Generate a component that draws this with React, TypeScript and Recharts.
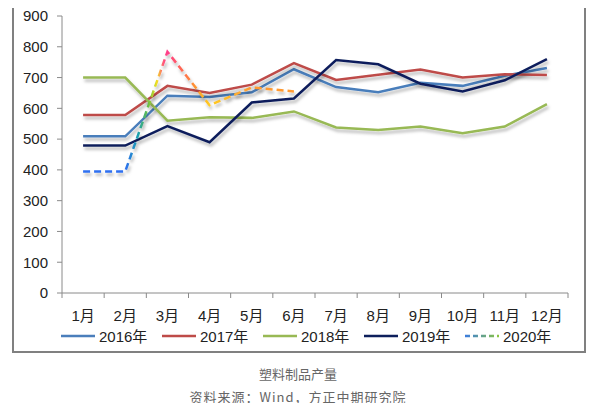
import React from 'react';
import { LineChart, Line, XAxis, YAxis, Legend, Customized } from 'recharts';

const months = ['1月', '2月', '3月', '4月', '5月', '6月', '7月', '8月', '9月', '10月', '11月', '12月'];
const s2016 = [509, 509, 641, 637, 652, 727, 669, 652, 683, 673, 706, 731];
const s2017 = [578, 578, 673, 650, 677, 747, 692, 709, 726, 700, 711, 708];
const s2018 = [700, 700, 560, 571, 569, 590, 538, 530, 541, 519, 541, 614];
const s2019 = [479, 479, 542, 490, 619, 632, 757, 743, 680, 655, 691, 760];
const s2020: (number | null)[] = [395, 395, 784, 610, 668, 655, null, null, null, null, null, null];
const yTicks = [0, 100, 200, 300, 400, 500, 600, 700, 800, 900];

const seriesNames = ['2016年', '2017年', '2018年', '2019年', '2020年'];
const seriesColors = ['#4a7ebb', '#be4b48', '#98b954', '#0d1f5c', 'url(#g2020)'];

const data = months.map((m, i) => ({
  month: m,
  y2016: s2016[i],
  y2017: s2017[i],
  y2018: s2018[i],
  y2019: s2019[i],
  y2020: s2020[i],
}));

const CHART_W = 574;
const CHART_H = 348;
const MARGIN = { top: 11, right: 18, bottom: 7, left: 0 };
const Y_W = 50;
const BAND = (CHART_W - MARGIN.left - MARGIN.right - Y_W) / months.length;

const FONT = '"Liberation Sans", "Noto Sans CJK SC", sans-serif';

const XTick = (props: any) => {
  const { x, y, payload, index } = props;
  return (
    <g>
      <line x1={x - BAND / 2} y1={y} x2={x - BAND / 2} y2={y + 5} stroke="#8a8a8a" strokeWidth={1} />
      {index === months.length - 1 && (
        <line x1={x + BAND / 2} y1={y} x2={x + BAND / 2} y2={y + 5} stroke="#8a8a8a" strokeWidth={1} />
      )}
      <text x={x} y={y + 28} textAnchor="middle" fontSize={15} fill="#222" fontFamily={FONT}>
        {payload.value}
      </text>
    </g>
  );
};

const Frame = () => (
  <rect x={1} y={1} width={CHART_W - 2} height={CHART_H - 2} fill="none" stroke="#808080" strokeWidth={2} />
);

const LegendContent = () => (
  <div style={{ display: 'flex', paddingLeft: 48, fontFamily: FONT, fontSize: 15, color: '#222' }}>
    {seriesNames.map((n, i) => (
      <div key={n} style={{ display: 'flex', alignItems: 'center', width: 101 }}>
        <svg width={36} height={10} style={{ marginRight: 3 }}>
          <defs>
            <linearGradient id={'lg' + i} gradientUnits="userSpaceOnUse" x1="1" y1="0" x2="35" y2="0">
              <stop offset="0" stopColor="#3a7be0" />
              <stop offset="1" stopColor="#8cc63f" />
            </linearGradient>
          </defs>
          <line
            x1={1}
            y1={5}
            x2={35}
            y2={5}
            stroke={i === 4 ? 'url(#lg4)' : seriesColors[i]}
            strokeWidth={2.5}
            strokeDasharray={i === 4 ? '5 3' : undefined}
          />
        </svg>
        <span>{n}</span>
      </div>
    ))}
  </div>
);

export default function App() {
  return (
    <div style={{ position: 'relative', margin: -8, width: 596, height: 411, background: '#fff' }}>
      <div style={{ position: 'absolute', left: 12, top: 5, width: CHART_W, height: CHART_H }}>
        <LineChart width={CHART_W} height={CHART_H} data={data} margin={MARGIN}>
          <defs>
            <filter id="shadow" x="-10%" y="-10%" width="130%" height="140%">
              <feDropShadow dx="1.5" dy="3" stdDeviation="1.5" floodColor="#000" floodOpacity="0.28" />
            </filter>
            <linearGradient id="g2020" x1="0" y1="0" x2="1" y2="0">
              <stop offset="0" stopColor="#2f6ff0" />
              <stop offset="0.2" stopColor="#2f6ff0" />
              <stop offset="0.26" stopColor="#1a9fb0" />
              <stop offset="0.31" stopColor="#6cc040" />
              <stop offset="0.35" stopColor="#f2e020" />
              <stop offset="0.38" stopColor="#ff5a7a" />
              <stop offset="0.4" stopColor="#ff3c8c" />
              <stop offset="0.47" stopColor="#ff6a50" />
              <stop offset="0.54" stopColor="#ff9a30" />
              <stop offset="0.6" stopColor="#ffcc20" />
              <stop offset="0.72" stopColor="#ffb030" />
              <stop offset="0.8" stopColor="#ff9a30" />
              <stop offset="1" stopColor="#ff9a30" />
            </linearGradient>
          </defs>
          <Customized component={<Frame />} />
          <XAxis
            dataKey="month"
            axisLine={{ stroke: '#8a8a8a', strokeWidth: 1 }}
            tickLine={false}
            tickSize={0}
            tickMargin={0}
            height={32}
            interval={0}
            padding={{ left: BAND / 2, right: BAND / 2 }}
            tick={<XTick />}
          />
          <YAxis
            domain={[0, 900]}
            ticks={yTicks}
            width={Y_W}
            axisLine={{ stroke: '#8a8a8a', strokeWidth: 1 }}
            tickLine={{ stroke: '#8a8a8a' }}
            tickSize={5}
            tickMargin={9}
            tick={{ fontSize: 15, fill: '#222', fontFamily: FONT }}
          />
          <Legend verticalAlign="bottom" content={<LegendContent />} wrapperStyle={{ left: 0, width: CHART_W }} />
          <Line type="linear" dataKey="y2016" stroke={seriesColors[0]} strokeWidth={2.5} dot={false} isAnimationActive={false} filter="url(#shadow)" />
          <Line type="linear" dataKey="y2017" stroke={seriesColors[1]} strokeWidth={2.5} dot={false} isAnimationActive={false} filter="url(#shadow)" />
          <Line type="linear" dataKey="y2018" stroke={seriesColors[2]} strokeWidth={2.5} dot={false} isAnimationActive={false} filter="url(#shadow)" />
          <Line type="linear" dataKey="y2019" stroke={seriesColors[3]} strokeWidth={2.5} dot={false} isAnimationActive={false} filter="url(#shadow)" />
          <Line type="linear" dataKey="y2020" stroke={seriesColors[4]} strokeWidth={2.5} strokeDasharray="7 4" dot={false} isAnimationActive={false} filter="url(#shadow)" />
        </LineChart>
      </div>
      <div
        style={{
          position: 'absolute',
          left: 12,
          top: 5,
          width: CHART_W,
          height: CHART_H,
          border: '2px solid #808080',
          boxSizing: 'border-box',
          pointerEvents: 'none',
        }}
      />
      <div
        style={{
          position: 'absolute',
          left: 0,
          width: 596,
          top: 364,
          textAlign: 'center',
          fontFamily: '"Noto Sans CJK SC", sans-serif',
          fontSize: 13,
          color: '#666',
        }}
      >
        塑料制品产量
      </div>
      <div
        style={{
          position: 'absolute',
          left: 0,
          width: 596,
          top: 387,
          textAlign: 'center',
          fontFamily: '"Noto Sans CJK SC", sans-serif',
          fontSize: 13,
          color: '#666',
          letterSpacing: 1,
        }}
      >
        资料来源：Wind，方正中期研究院
      </div>
    </div>
  );
}
